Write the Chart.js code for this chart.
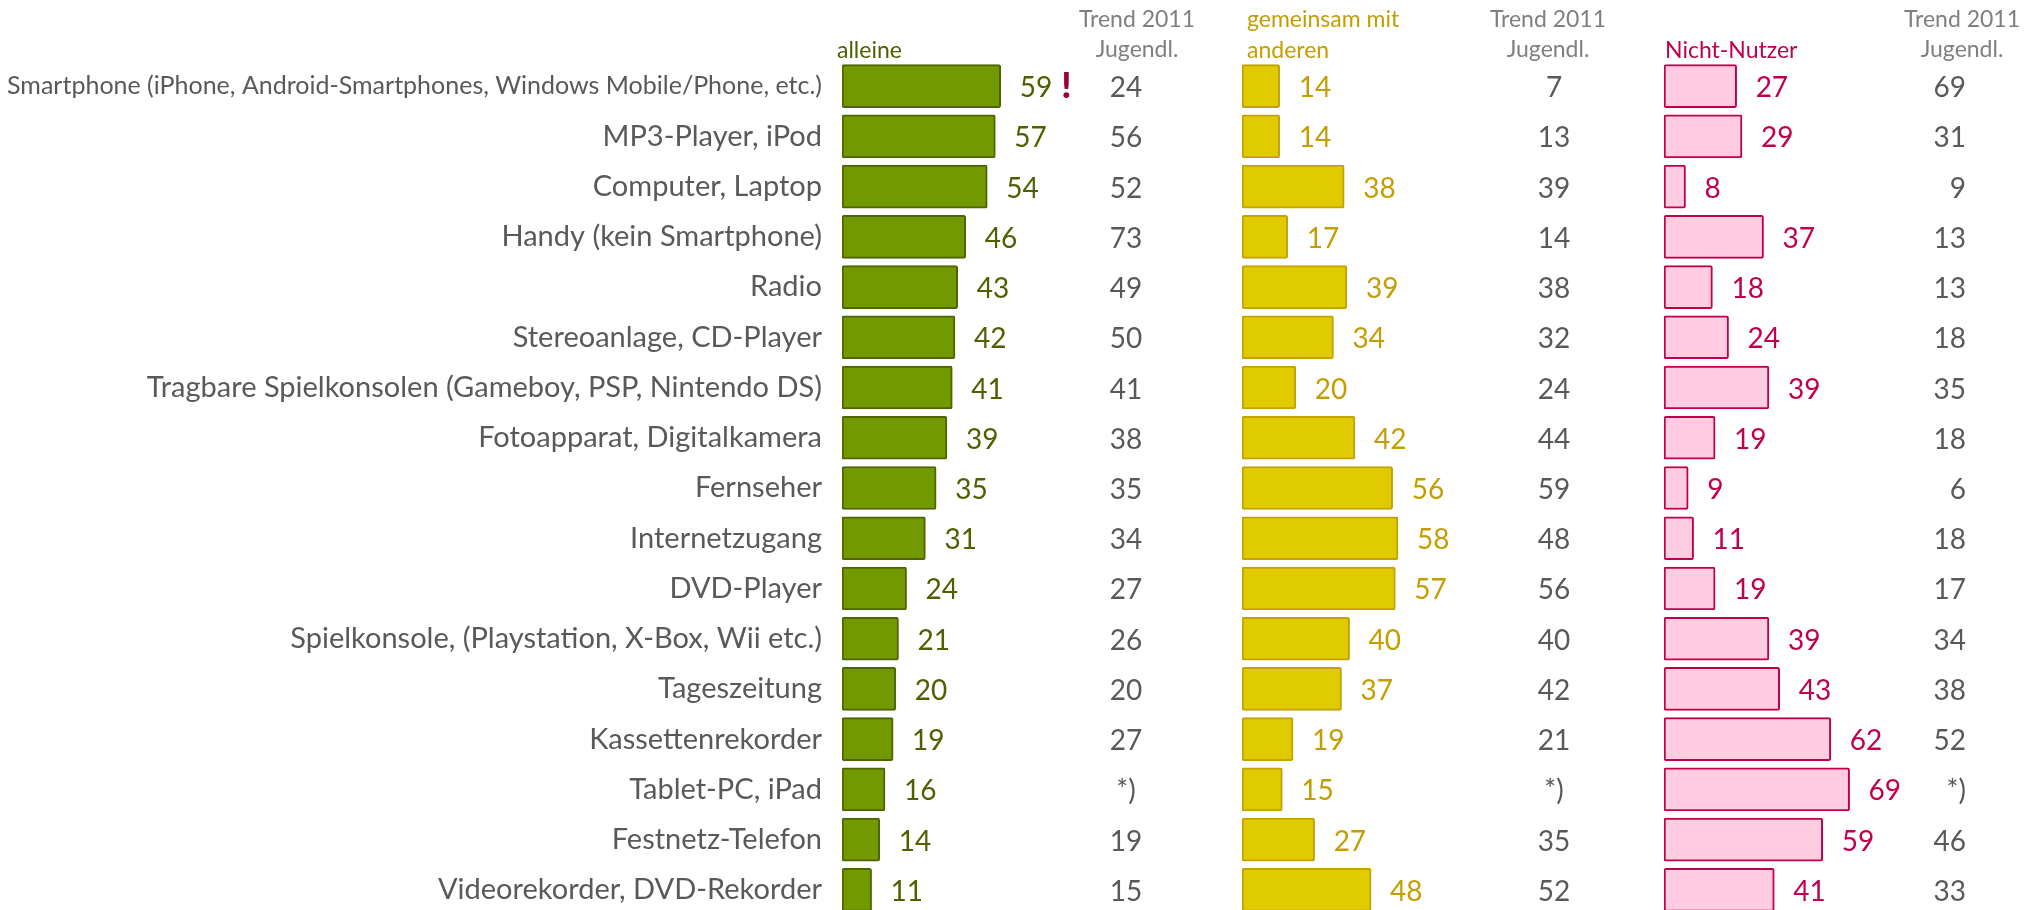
<!DOCTYPE html>
<html lang="de">
<head>
<meta charset="utf-8">
<title>Geräte: alleine / gemeinsam / Nicht-Nutzer</title>
<script src="https://cdn.jsdelivr.net/npm/chart.js@4.4.1/dist/chart.umd.min.js"></script>
<style>
  html, body { margin: 0; padding: 0; background: #fff; overflow: hidden; }
  #wrap { position: relative; width: 2030px; height: 910px; overflow: hidden; }
  .panel { position: absolute; top: 0; }
</style>
</head>
<body>
<div id="wrap">
  <div class="panel" style="left:0px"><canvas id="chart-alleine" width="1240" height="950"></canvas></div>
  <div class="panel" style="left:1240px"><canvas id="chart-gemeinsam" width="400" height="950"></canvas></div>
  <div class="panel" style="left:1640px"><canvas id="chart-nicht" width="390" height="950"></canvas></div>
</div>
<script>
// Geräte (Kategorien)
const categories = [
  'Smartphone (iPhone, Android-Smartphones, Windows Mobile/Phone, etc.)',
  'MP3-Player, iPod',
  'Computer, Laptop',
  'Handy (kein Smartphone)',
  'Radio',
  'Stereoanlage, CD-Player',
  'Tragbare Spielkonsolen (Gameboy, PSP, Nintendo DS)',
  'Fotoapparat, Digitalkamera',
  'Fernseher',
  'Internetzugang',
  'DVD-Player',
  'Spielkonsole, (Playstation, X-Box, Wii etc.)',
  'Tageszeitung',
  'Kassettenrekorder',
  'Tablet-PC, iPad',
  'Festnetz-Telefon',
  'Videorekorder, DVD-Rekorder'
];

// Werte in Prozent
const alleine = [59, 57, 54, 46, 43, 42, 41, 39, 35, 31, 24, 21, 20, 19, 16, 14, 11];
const gemeinsam = [14, 14, 38, 17, 39, 34, 20, 42, 56, 58, 57, 40, 37, 19, 15, 27, 48];
const nichtNutzer = [27, 29, 8, 37, 18, 24, 39, 19, 9, 11, 19, 39, 43, 62, 69, 59, 41];

// Trend 2011 Jugendliche (null = nicht erhoben, wird als *) angezeigt)
const trendAlleine = [24, 56, 52, 73, 49, 50, 41, 38, 35, 34, 27, 26, 20, 27, null, 19, 15];
const trendGemeinsam = [7, 13, 39, 14, 38, 32, 24, 44, 59, 48, 56, 40, 42, 21, null, 35, 52];
const trendNicht = [69, 31, 9, 13, 13, 18, 35, 18, 6, 18, 17, 34, 38, 52, null, 46, 33];

// Hervorhebung hinter einzelnen Werten
const alleineMarks = ['!', '', '', '', '', '', '', '', '', '', '', '', '', '', '', '', ''];

const FONT = 'Lato, "Open Sans", sans-serif';
const GREY = '#595959';

// Zahlen neben den Balken, Trendspalte und Spaltenköpfe
const panelText = {
  id: 'panelText',
  afterDatasetsDraw(chart, args, opts) {
    const ctx = chart.ctx;
    const meta = chart.getDatasetMeta(0);
    const values = chart.data.datasets[0].data;
    ctx.save();
    ctx.font = '28px ' + FONT;
    meta.data.forEach((bar, i) => {
      const y = bar.y + 11;
      ctx.textAlign = 'left';
      ctx.fillStyle = opts.labelColor;
      const txt = String(values[i]);
      ctx.fillText(txt, bar.x + 19, y);
      if (opts.marks && opts.marks[i]) {
        const w = ctx.measureText(txt).width;
        ctx.save();
        ctx.font = '900 36px ' + FONT;
        ctx.fillStyle = '#9b0037';
        ctx.fillText(opts.marks[i], bar.x + 19 + w + 9, y + 1);
        ctx.restore();
      }
      const t = opts.trend[i];
      ctx.textAlign = opts.trendAlign;
      ctx.fillStyle = GREY;
      ctx.fillText(t === null ? '*)' : String(t), opts.trendX, y);
    });

    ctx.font = '23px ' + FONT;
    ctx.textAlign = 'center';
    ctx.fillStyle = '#7f7f7f';
    ctx.fillText('Trend 2011', opts.headX, 27);
    ctx.fillText('Jugendl.', opts.headX, 57);

    ctx.textAlign = 'left';
    ctx.fillStyle = opts.titleColor;
    const lines = opts.title;
    const x0 = chart.chartArea.left + opts.titleShift;
    if (lines.length === 2) {
      ctx.fillText(lines[0], x0, 27);
      ctx.fillText(lines[1], x0, 58);
    } else {
      ctx.fillText(lines[0], x0, 58);
    }
    ctx.restore();
  }
};

function makePanel(id, cfg) {
  const ctx = document.getElementById(id).getContext('2d');
  const yAxis = cfg.showLabels ? {
    grid: { display: false, drawTicks: false },
    border: { display: false },
    afterFit: (scale) => { scale.width = cfg.axisWidth; },
    ticks: {
      color: GREY,
      padding: 20,
      autoSkip: false,
      font: (c) => ({ family: FONT, size: c.index === 0 ? 25 : 29 })
    }
  } : { display: false };

  return new Chart(ctx, {
    type: 'bar',
    data: {
      labels: categories,
      datasets: [{
        data: cfg.values,
        backgroundColor: cfg.fill,
        borderColor: cfg.border,
        borderWidth: 2,
        borderSkipped: false,
        borderRadius: 2,
        barThickness: 43
      }]
    },
    options: {
      indexAxis: 'y',
      responsive: false,
      animation: false,
      // chartArea: 61 .. 915 -> 17 Zeilen à ~50 px
      layout: { padding: { left: cfg.padLeft, right: cfg.padRight, top: 61, bottom: 35 } },
      plugins: {
        legend: { display: false },
        tooltip: { enabled: false },
        panelText: cfg.text
      },
      scales: {
        x: { display: false, min: 0, max: 100 },
        y: yAxis
      }
    },
    plugins: [panelText]
  });
}

makePanel('chart-alleine', {
  values: alleine,
  fill: '#739900',
  border: '#4e6500',
  showLabels: true,
  axisWidth: 842,
  padLeft: 0,
  padRight: 129,
  text: {
    labelColor: '#4d6100',
    marks: alleineMarks,
    trend: trendAlleine,
    trendX: 1126,
    trendAlign: 'center',
    headX: 1137,
    title: ['alleine'],
    titleColor: '#4d6100',
    titleShift: -5
  }
});

makePanel('chart-gemeinsam', {
  values: gemeinsam,
  fill: '#e0ca00',
  border: '#c4a200',
  showLabels: false,
  padLeft: 2,
  padRight: 129,
  text: {
    labelColor: '#c49e00',
    trend: trendGemeinsam,
    trendX: 314,
    trendAlign: 'center',
    headX: 308,
    title: ['gemeinsam mit', 'anderen'],
    titleColor: '#c49e00',
    titleShift: 5
  }
});

makePanel('chart-nicht', {
  values: nichtNutzer,
  fill: '#ffcce0',
  border: '#c0004f',
  showLabels: false,
  padLeft: 24,
  padRight: 97,
  text: {
    labelColor: '#c0004f',
    trend: trendNicht,
    trendX: 326,
    trendAlign: 'right',
    headX: 322,
    title: ['Nicht-Nutzer'],
    titleColor: '#c0004f',
    titleShift: 1
  }
});
</script>
</body>
</html>
